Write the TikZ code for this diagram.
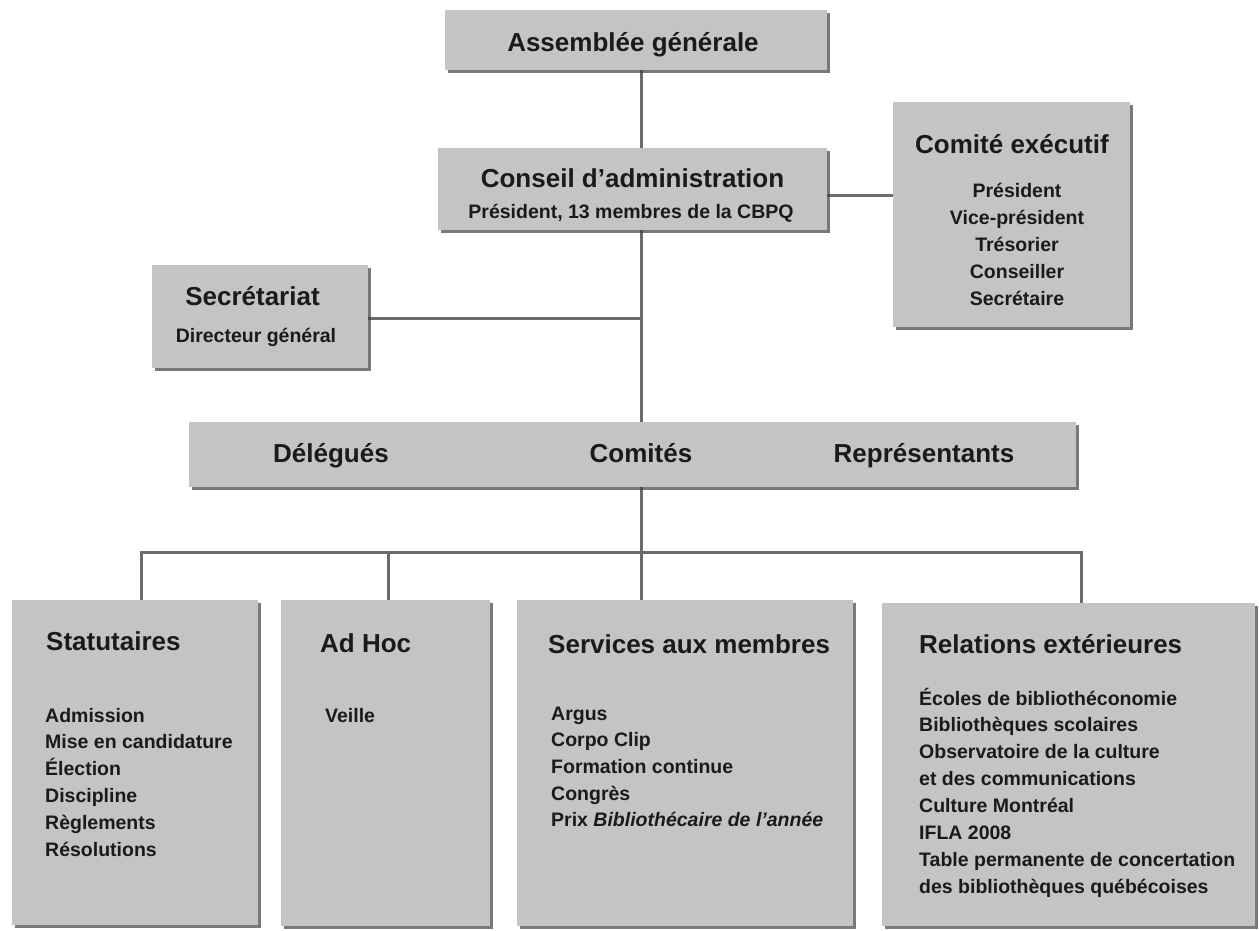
\documentclass[tikz,border=0pt]{standalone}
\usepackage{fontspec}
\setmainfont{Liberation Sans}
\usetikzlibrary{shadows,backgrounds}
\definecolor{boxgray}{HTML}{C4C4C4}
\definecolor{linegray}{HTML}{6B6B6B}
\definecolor{inkgray}{HTML}{1A1A1A}
\newcommand\orgtitle{\fontsize{26}{30}\selectfont\bfseries}
\newcommand\orgitem{\fontsize{19.5}{24}\selectfont\bfseries}

\begin{document}
\begin{tikzpicture}[x=1pt,y=-1pt,
    box/.style={fill=boxgray, inner sep=0pt,
        drop shadow={shadow xshift=2.5pt, shadow yshift=-3pt, fill=black!75, opacity=.7}},
    link/.style={draw=linegray, line width=3pt},
    head/.style={font=\orgtitle, text=inkgray, inner sep=0pt},
    entry/.style={font=\orgitem, text=inkgray, inner sep=0pt}]
    \useasboundingbox (0,0) rectangle (1259,930);

    % upper boxes
    \node[box, minimum width=382pt, minimum height=60pt] (ag) at (636,40) {};
    \node[box, minimum width=389pt, minimum height=82pt] (ca) at (632.5,189) {};
    \node[box, minimum width=237pt, minimum height=225pt] (ce) at (1011.5,214.5) {};
    \node[box, minimum width=216pt, minimum height=103pt] (sec) at (260,316.5) {};
    \node[box, minimum width=887pt, minimum height=65pt] (bar) at (632.5,454.5) {};

    % lower boxes
    \node[box, minimum width=246pt, minimum height=325pt] (sta) at (135,762.5) {};
    \node[box, minimum width=209pt, minimum height=326pt] (ah) at (385.5,763) {};
    \node[box, minimum width=336pt, minimum height=326pt] (sam) at (685,763) {};
    \node[box, minimum width=373pt, minimum height=323pt] (rel) at (1068.5,764.5) {};

    % connectors
    \coordinate (trunk) at (641,0);
    \coordinate (k) at (860,195);
    \coordinate (s) at (500,318);
    \coordinate (hl) at (141,552);
    \coordinate (hr) at (1081,552);
    \coordinate (d2) at (388,552);
    \begin{scope}[on background layer]
        \draw[link] (ag.south -| trunk) -- (bar.north -| trunk);
        \draw[link] (ca.east |- k) -- (ce.west |- k);
        \draw[link] (sec.east |- s) -- (trunk |- s);
        \draw[link] (bar.south -| trunk) -- (sam.north -| trunk);
        \draw[link] (sta.north -| hl) -- (hl) -- (hr) -- (rel.north -| hr);
        \draw[link] (d2) -- (ah.north -| d2);
    \end{scope}

    % texts
    \node[head, anchor=base] (ag-t) at (633,51) {Assemblée générale};
    \node[head, anchor=base] (ca-t) at (632.5,187) {Conseil d'administration};
    \node[entry, anchor=base] (ca-s) at (631,218) {Président, 13 membres de la CBPQ};
    \node[head, anchor=base] (ce-t) at (1012,153) {Comité exécutif};
    \foreach \txt [count=\i] in {Président, Vice-président, Trésorier, Conseiller, Secrétaire}
        \node[entry, anchor=base] (ce-\i) at (1017,{197+27*(\i-1)}) {\txt};
    \node[head, anchor=base] (sec-t) at (252.5,305) {Secrétariat};
    \node[entry, anchor=base] (sec-s) at (256,342) {Directeur général};

    \node[head, anchor=base] (del) at (331,462) {Délégués};
    \node[head, anchor=base] (com) at (641,462) {Comités};
    \node[head, anchor=base] (rep) at (924,462) {Représentants};

    \node[head, anchor=base west] (sta-t) at (46,650) {Statutaires};
    \foreach \txt [count=\i] in {Admission, Mise en candidature, Élection, Discipline, Règlements, Résolutions}
        \node[entry, anchor=base west] (sta-\i) at (45,{722+26.8*(\i-1)}) {\txt};

    \node[head, anchor=base west] (ah-t) at (320,652) {Ad Hoc};
    \node[entry, anchor=base west] (ah-1) at (325,722) {Veille};

    \node[head, anchor=base west] (sam-t) at (548,653) {Services aux membres};
    \foreach \txt [count=\i] in {Argus, Corpo Clip, Formation continue, Congrès, Prix \textit{Bibliothécaire de l'année}}
        \node[entry, anchor=base west] (sam-\i) at (551,{720+26.7*(\i-1)}) {\txt};

    \node[head, anchor=base west] (rel-t) at (919,653) {Relations extérieures};
    \foreach \txt [count=\i] in {Écoles de bibliothéconomie, Bibliothèques scolaires, Observatoire de la culture, et des communications, Culture Montréal, IFLA 2008, Table permanente de concertation, des bibliothèques québécoises}
        \node[entry, anchor=base west] (rel-\i) at (919,{705+26.9*(\i-1)}) {\txt};
\end{tikzpicture}
\end{document}
